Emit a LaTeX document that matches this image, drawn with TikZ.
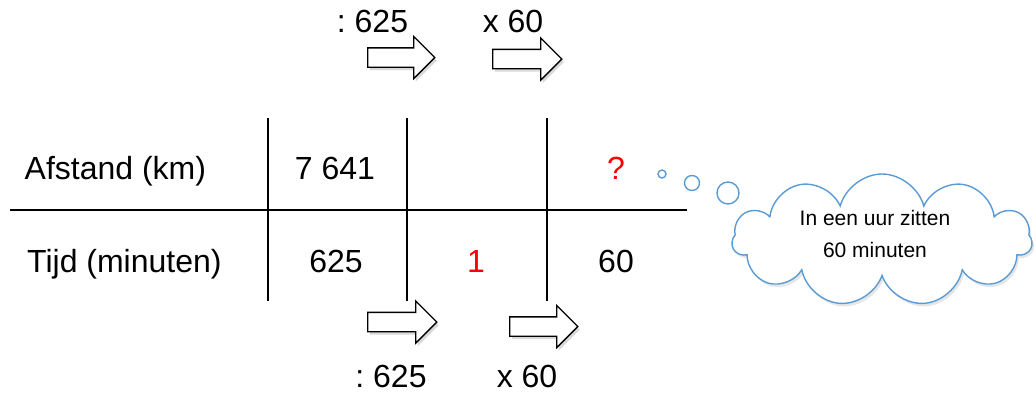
\documentclass[tikz,border=0pt]{standalone}
\usepackage{fontspec}
\setmainfont{Liberation Sans}
\usetikzlibrary{shapes.arrows,shapes.symbols,shadows}
\definecolor{cloudblue}{RGB}{91,155,213}
\frenchspacing
\begin{document}
\begin{tikzpicture}[x=1pt,y=-1pt,
  txt/.style={font=\fontsize{32}{38}\selectfont, inner sep=0pt},
  redtxt/.style={txt, text=red},
  rule/.style={line width=2pt},
  blockarrow/.style={single arrow, draw, line width=1.3pt, fill=white,
    inner xsep=0pt, inner ysep=9pt, single arrow head extend=11.5pt,
    single arrow head indent=0pt,
    drop shadow={opacity=0.3, shadow xshift=2pt, shadow yshift=-3pt}},
  bubble/.style={circle, draw=cloudblue, line width=1.4pt, inner sep=0pt, fill=white},
  cloudshape/.style={cloud, draw=cloudblue, line width=1.4pt, fill=white,
    cloud puffs=11, aspect=2.3, inner sep=0pt,
    drop shadow={opacity=0.2, shadow xshift=2pt, shadow yshift=-3pt}},
  cloudtxt/.style={font=\fontsize{21}{32}\selectfont, align=center, inner sep=0pt}
]
\useasboundingbox (0,0) rectangle (1034,392);

% table rules
\coordinate (hL) at (10,210);
\coordinate (hR) at (687,210);
\draw[rule] (hL) -- (hR);
\coordinate (v1t) at (268,118); \coordinate (v1b) at (268,301);
\coordinate (v2t) at (407,118); \coordinate (v2b) at (407,301);
\coordinate (v3t) at (547,118); \coordinate (v3b) at (547,301);
\draw[rule] (v1t) -- (v1b);
\draw[rule] (v2t) -- (v2b);
\draw[rule] (v3t) -- (v3b);

% table texts
\node[txt, anchor=base west] (afstand) at (24.5,179) {Afstand (km)};
\node[txt, anchor=base west] (tijd) at (27,272) {Tijd (minuten)};
\node[txt, anchor=base] (d1) at (335,179) {7 641};
\node[redtxt, anchor=base] (q) at (616,179) {?};
\node[txt, anchor=base] (t1) at (336,272) {625};
\node[redtxt, anchor=base] (t2) at (476,272) {1};
\node[txt, anchor=base] (t3) at (616,272) {60};

% top operations
\node[txt] (topdiv) at (372.5,21) {: 625};
\node[txt] (topmul) at (513,21) {x 60};
\node[blockarrow, minimum height=67pt] (ta1) at (396.5,57.5) {};
\node[blockarrow, minimum height=69pt] (ta2) at (522.5,59) {};

% bottom operations
\node[blockarrow, minimum height=69pt] (ba1) at (397.5,322) {};
\node[blockarrow, minimum height=68pt] (ba2) at (539,326.5) {};
\node[txt] (botdiv) at (391,376) {: 625};
\node[txt] (botmul) at (527,376) {x 60};

% thought bubbles and cloud
\node[bubble, minimum size=8pt] (b1) at (662,174) {};
\node[bubble, minimum size=15pt] (b2) at (692,183) {};
\node[bubble, minimum size=22pt] (b3) at (728,193) {};
\node[cloudshape, minimum width=300pt, minimum height=132pt] (cloud) at (882,240) {};
\node[cloudtxt] (cloudtext) at (875,234) {In een uur zitten\\60 minuten};
\end{tikzpicture}
\end{document}
